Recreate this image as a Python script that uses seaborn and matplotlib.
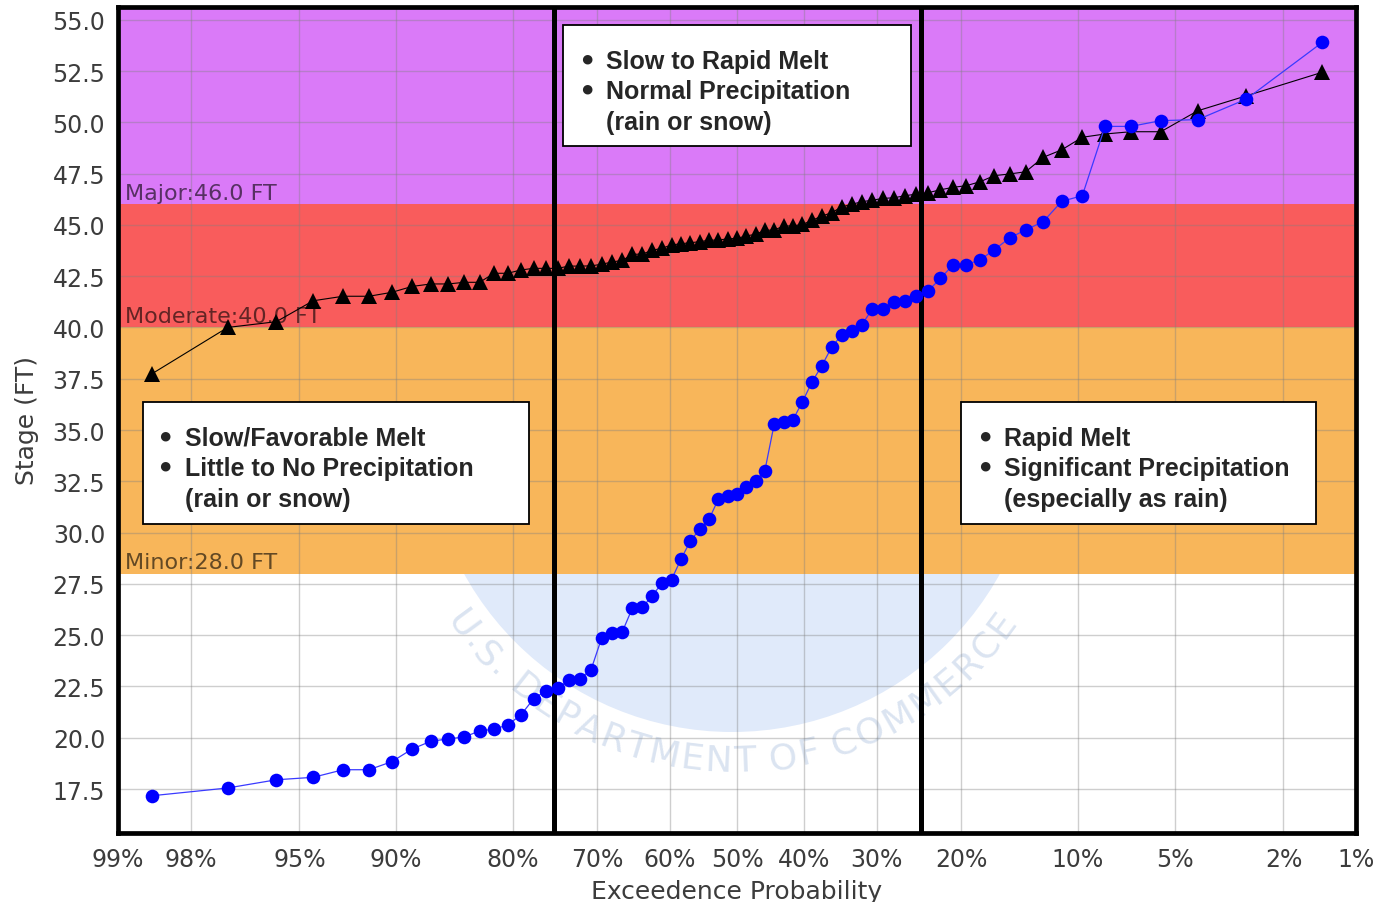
import math
import numpy as np
import seaborn as sns
import matplotlib.pyplot as plt
from matplotlib.patches import Ellipse, Rectangle
from matplotlib.transforms import blended_transform_factory

# exceedance probability (%) of each ranked trace, left to right
exceed_pct = [98.61, 97.22, 95.83, 94.44, 93.06, 91.67, 90.28, 88.89, 87.50, 86.11,
              84.72, 83.33, 81.94, 80.56, 79.17, 77.78, 76.39, 75.00, 73.61, 72.22,
              70.83, 69.44, 68.06, 66.67, 65.28, 63.89, 62.50, 61.11, 59.72, 58.33,
              56.94, 55.56, 54.17, 52.78, 51.39, 50.00, 48.61, 47.22, 45.83, 44.44,
              43.06, 41.67, 40.28, 38.89, 37.50, 36.11, 34.72, 33.33, 31.94, 30.56,
              29.17, 27.78, 26.39, 25.00, 23.61, 22.22, 20.83, 19.44, 18.06, 16.67,
              15.28, 13.89, 12.50, 11.11, 9.72, 8.33, 6.94, 5.56, 4.17, 2.78, 1.39]

# blue circles (stage, ft)
cond_stage = [17.17, 17.55, 17.95, 18.07, 18.44, 18.44, 18.83, 19.45, 19.83, 19.94,
              20.04, 20.33, 20.42, 20.62, 21.11, 21.89, 22.29, 22.41, 22.80, 22.88,
              23.32, 24.87, 25.10, 25.17, 26.33, 26.35, 26.93, 27.52, 27.71, 28.71,
              29.60, 30.17, 30.66, 31.64, 31.77, 31.88, 32.24, 32.53, 33.02, 35.29,
              35.37, 35.50, 36.38, 37.35, 38.13, 39.03, 39.63, 39.84, 40.13, 40.90,
              40.92, 41.22, 41.30, 41.52, 41.79, 42.39, 43.06, 43.06, 43.29, 43.79,
              44.36, 44.76, 45.15, 46.15, 46.42, 49.80, 49.80, 50.08, 50.13, 51.13,
              53.90]

# black triangles (stage, ft)
hist_stage = [37.73, 40.00, 40.28, 41.30, 41.52, 41.52, 41.71, 42.00, 42.12, 42.12,
              42.20, 42.20, 42.64, 42.64, 42.80, 42.88, 42.88, 42.88, 42.99, 42.99,
              43.00, 43.08, 43.19, 43.27, 43.56, 43.58, 43.76, 43.86, 44.02, 44.08,
              44.13, 44.18, 44.25, 44.26, 44.32, 44.34, 44.46, 44.54, 44.73, 44.75,
              44.94, 44.95, 45.02, 45.22, 45.43, 45.59, 45.87, 46.00, 46.13, 46.20,
              46.29, 46.32, 46.42, 46.50, 46.57, 46.71, 46.83, 46.91, 47.10, 47.40,
              47.48, 47.59, 48.29, 48.66, 49.27, 49.43, 49.54, 49.54, 50.56, 51.29,
              52.44]

flood_names = ['Minor', 'Moderate', 'Major']
flood_levels = [28.0, 40.0, 46.0]
flood_colors = ['#f8b65a', '#f95c5c', '#da7af8']

x_ticks = [99, 98, 95, 90, 80, 70, 60, 50, 40, 30, 20, 10, 5, 2, 1]
scenario_bounds = [75.4, 24.5]

box_lines = [
    ['Slow/Favorable Melt', 'Little to No Precipitation', '(rain or snow)'],
    ['Slow to Rapid Melt', 'Normal Precipitation', '(rain or snow)'],
    ['Rapid Melt', 'Significant Precipitation', '(especially as rain)'],
]


# normal probability scale for the x axis
_erf = np.vectorize(math.erf, otypes=[float])


def phi(z):
    return 0.5 * (1.0 + _erf(np.asarray(z, dtype=float) / math.sqrt(2.0)))


def probit(p):
    p = np.clip(np.asarray(p, dtype=float), 1e-9, 1 - 1e-9)
    lo = np.full(p.shape, -7.0)
    hi = np.full(p.shape, 7.0)
    for _ in range(50):
        mid = 0.5 * (lo + hi)
        low = phi(mid) < p
        lo = np.where(low, mid, lo)
        hi = np.where(low, hi, mid)
    return 0.5 * (lo + hi)


def forward(x):
    return probit(np.asarray(x, dtype=float) / 100.0)


def inverse(z):
    return 100.0 * phi(z)


sns.set_style('white')
plt.rcParams['font.family'] = ['DejaVu Sans']

W, H = 1375, 903
fig = plt.figure(figsize=(W / 100, H / 100), dpi=100)
ax = fig.add_axes([118 / W, 1 - 833.5 / H, (1356 - 118) / W, (833.5 - 8) / H])
ax.set_xscale('function', functions=(forward, inverse))
ax.set_xlim(99, 1)
ax.set_ylim(15.38, 55.62)


def fx(x):
    return x / W


def fy(y):
    return 1 - y / H


# faded seal in the background
cx, cy, R = 732, 427, 306
seal = Ellipse((fx(cx), fy(cy)), 2 * R / W, 2 * R / H, transform=fig.transFigure,
               fc='#e0eafa', ec='none', zorder=0.1)
ax.add_artist(seal)
ring = 'U.S. DEPARTMENT OF COMMERCE'
cw = {'.': .318, ' ': .318, 'U': .732, 'S': .635, 'D': .770, 'E': .632, 'P': .603,
      'A': .684, 'R': .695, 'T': .611, 'M': .863, 'N': .748, 'O': .787, 'F': .575,
      'C': .698}
widths = [cw[c] for c in ring]
centers = np.cumsum(widths) - np.array(widths) / 2
frac = (centers - centers[0]) / (centers[-1] - centers[0])
a0, a1, rr = -143.7, -36.3, 335
for ch, f in zip(ring, frac):
    ang = a0 + f * (a1 - a0)
    X = cx + rr * math.cos(math.radians(ang))
    Y = (H - cy) + rr * math.sin(math.radians(ang))
    ax.text(X / W, Y / H, ch, transform=fig.transFigure, rotation=ang + 90,
            rotation_mode='anchor', ha='center', va='center', fontsize=26,
            color='#dbe4f1', zorder=0.2, clip_on=True)

# flood category bands
tops = flood_levels[1:] + [60]
for lvl, top, col in zip(flood_levels, tops, flood_colors):
    ax.axhspan(lvl, top, color=col, lw=0, zorder=0.3)
lab_tr = blended_transform_factory(ax.transAxes, ax.transData)
for name, lvl in zip(flood_names, flood_levels):
    ax.text(0.0056, lvl + 0.25, f'{name}:{lvl:.1f} FT', transform=lab_tr,
            ha='left', va='baseline', fontsize=16, color='black', alpha=0.6, zorder=1.2)

ax.set_axisbelow('line')
ax.grid(True, color='#808080', alpha=0.38, lw=1.0)

for xb in scenario_bounds:
    ax.axvline(xb, color='black', lw=3.6, zorder=2.8)

sns.lineplot(x=exceed_pct, y=hist_stage, ax=ax, color='black', lw=0.8,
             marker='^', markersize=11, mec='black', mew=0, sort=False,
             estimator=None, zorder=3)
sns.lineplot(x=exceed_pct, y=cond_stage, ax=ax, color='#3a3aff', lw=0.9,
             marker='o', markersize=9.8, mfc='#0000ff', mec='#0000ff', mew=0,
             sort=False, estimator=None, zorder=4)

ax.set_xticks(x_ticks, [f'{t}%' for t in x_ticks])
ax.xaxis.set_minor_locator(plt.NullLocator())
yt = np.arange(17.5, 55.1, 2.5)
ax.set_yticks(yt, [f'{v:.1f}' for v in yt])
ax.tick_params(axis='both', labelsize=17, labelcolor='#3c3c3c', color='#999999',
               length=3, width=1)
ax.tick_params(axis='x', pad=7.5)
ax.tick_params(axis='y', pad=6.2)
ax.set_xlabel('Exceedence Probability', fontsize=18, color='#3c3c3c')
ax.set_ylabel('Stage (FT)', fontsize=18, color='#3c3c3c')
ax.xaxis.set_label_coords(0.5, -0.056)
ax.yaxis.set_label_coords(-0.064, 0.5)
for sp in ax.spines.values():
    sp.set_visible(True)
    sp.set_linewidth(3.4)
    sp.set_color('black')
    sp.set_zorder(6)

# scenario boxes (left, top, right, bottom, bullet x, text x, first baseline)
boxes = [(143, 403, 529, 525, 165, 185, 446),
         (563, 26, 911, 147, 587, 606, 69),
         (961, 403, 1316, 525, 985, 1004, 446)]
box_font = ['Liberation Sans', 'DejaVu Sans']
for (l, t, r, b, bx, tx, base), lines in zip(boxes, box_lines):
    fig.add_artist(Rectangle((fx(l), fy(b)), (r - l) / W, (b - t) / H,
                             transform=fig.transFigure, fc='white', ec='black',
                             lw=1.3, zorder=10))
    for k, line in enumerate(lines):
        yb = base + k * 30.5
        fig.text(fx(tx), fy(yb), line, fontsize=18, fontweight='bold',
                 family=box_font, ha='left', va='baseline', zorder=11)
        if k < 2:
            fig.text(fx(bx), fy(yb - 9), '\u25cf', fontsize=16, family=box_font,
                     ha='center', va='center', zorder=11)

fig.savefig('out.png', dpi=100)
